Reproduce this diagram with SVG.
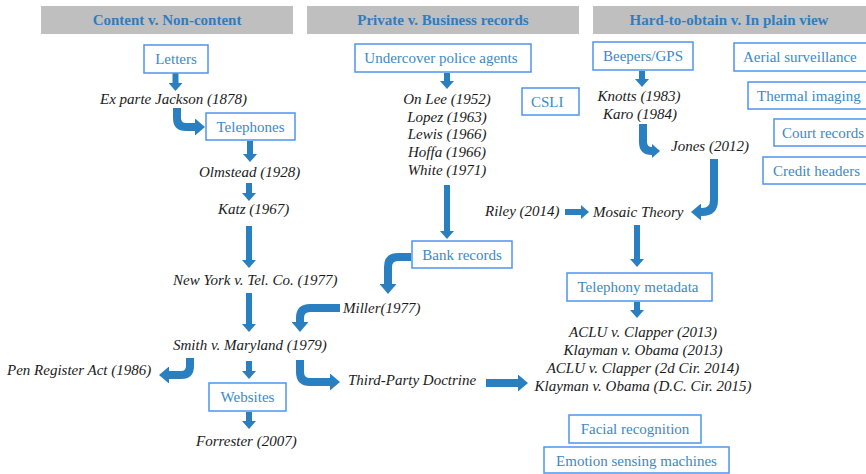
<svg xmlns="http://www.w3.org/2000/svg" width="866" height="474" viewBox="0 0 866 474">
<style>
.hdr{fill:#bfbfbf}
.ht{font-family:"Liberation Serif",serif;font-weight:bold;font-size:15px;fill:#2f7dc0;text-anchor:middle}
.box{fill:#fff;stroke:#4e95ee;stroke-width:1.5}
.bt{font-family:"Liberation Serif",serif;font-size:15px;fill:#3a89c9}
.c{text-anchor:middle}
.it{font-family:"Liberation Serif",serif;font-style:italic;font-size:15px;fill:#1a1a1a}
.a{fill:none;stroke:#2a7fc0;stroke-width:6}
.b{fill:none;stroke:#2a7fc0;stroke-width:8}
</style>
<defs>
<marker id="h" markerUnits="userSpaceOnUse" markerWidth="8" markerHeight="14" viewBox="0 0 8 14" refX="0" refY="7" orient="auto"><path d="M0,0L8,7L0,14z" fill="#2a7fc0"/></marker>
<marker id="H" markerUnits="userSpaceOnUse" markerWidth="10" markerHeight="17" viewBox="0 0 10 17" refX="0" refY="8.5" orient="auto"><path d="M0,0L10,8.5L0,17z" fill="#2a7fc0"/></marker>
</defs>
<g id="headers">
<rect class="hdr" x="41" y="6" width="252" height="28"/>
<text class="ht" x="167" y="25">Content v. Non-content</text>
<rect class="hdr" x="307" y="6" width="272" height="28"/>
<text class="ht" x="443" y="25">Private v. Business records</text>
<rect class="hdr" x="593" y="6" width="273" height="28"/>
<text class="ht" x="729" y="25">Hard-to-obtain v. In plain view</text>
</g>
<g id="connectors">
<path class="a" d="M175.5,73V83" marker-end="url(#h)"/>
<path class="b" d="M177,108V118Q177,127 186,127H195" marker-end="url(#H)"/>
<path class="a" d="M250,141V154" marker-end="url(#h)"/>
<path class="a" d="M249,183V193" marker-end="url(#h)"/>
<path class="a" d="M249,226V260" marker-end="url(#h)"/>
<path class="a" d="M249,293V324" marker-end="url(#h)"/>
<path class="a" d="M249,361V371" marker-end="url(#h)"/>
<path class="a" d="M249,412V421" marker-end="url(#h)"/>
<path class="b" d="M190,358V366Q190,375 181,375H169" marker-end="url(#H)"/>
<path class="a" d="M447,73V81" marker-end="url(#h)"/>
<path class="a" d="M447,185V231" marker-end="url(#h)"/>
<path class="b" d="M411,257H398Q388,257 388,267V284" marker-end="url(#H)"/>
<path class="b" d="M340,308H310Q300,308 300,318V322" marker-end="url(#H)"/>
<path class="b" d="M300,360V372Q300,382 310,382H330" marker-end="url(#H)"/>
<path class="b" d="M486,383H518" marker-end="url(#H)"/>
<path class="a" d="M642,71V79" marker-end="url(#h)"/>
<path class="b" d="M643,124V142Q643,151 652,151" marker-end="url(#h)"/>
<path class="b" d="M714,159V200Q714,212 702,212H701" marker-end="url(#H)"/>
<path class="a" d="M565,212H581" marker-end="url(#h)"/>
<path class="a" d="M637,225V259" marker-end="url(#h)"/>
<path class="a" d="M637,302V310" marker-end="url(#h)"/>
</g>
<g id="letters"><rect class="box" x="144" y="45" width="64" height="28"/><text class="bt c" x="176" y="64">Letters</text></g>
<g id="telephones"><rect class="box" x="206" y="113" width="89" height="27"/><text class="bt c" x="250.5" y="132">Telephones</text></g>
<g id="websites"><rect class="box" x="209" y="383" width="77" height="28"/><text class="bt c" x="247.5" y="402">Websites</text></g>
<g id="undercover"><rect class="box" x="355" y="44" width="176" height="28"/><text class="bt c" x="441" y="63">Undercover police agents</text></g>
<g id="csli"><rect class="box" x="522" y="88" width="57" height="27"/><text class="bt" x="531" y="107">CSLI</text></g>
<g id="bank"><rect class="box" x="412" y="241" width="100" height="27"/><text class="bt c" x="462" y="260">Bank records</text></g>
<g id="beepers"><rect class="box" x="593" y="42" width="100" height="28"/><text class="bt c" x="643" y="61">Beepers/GPS</text></g>
<g id="aerial"><rect class="box" x="734" y="43" width="140" height="28"/><text class="bt" x="743" y="62">Aerial surveillance</text></g>
<g id="thermal"><rect class="box" x="748" y="82" width="130" height="27"/><text class="bt" x="757" y="101">Thermal imaging</text></g>
<g id="court"><rect class="box" x="774" y="119" width="100" height="27"/><text class="bt" x="782" y="138">Court records</text></g>
<g id="credit"><rect class="box" x="763" y="157" width="110" height="27"/><text class="bt" x="773" y="176">Credit headers</text></g>
<g id="telephony"><rect class="box" x="567" y="273" width="145" height="28"/><text class="bt c" x="638" y="292">Telephony metadata</text></g>
<g id="facial"><rect class="box" x="569" y="415" width="132" height="28"/><text class="bt c" x="635" y="434">Facial recognition</text></g>
<g id="emotion"><rect class="box" x="544" y="447" width="185" height="26"/><text class="bt c" x="636.5" y="466">Emotion sensing machines</text></g>
<g id="exparte"><text class="it" x="100" y="104">Ex parte Jackson (1878)</text></g>
<g id="olmstead"><text class="it" x="199" y="177">Olmstead (1928)</text></g>
<g id="katz"><text class="it" x="218" y="214">Katz (1967)</text></g>
<g id="nytel"><text class="it" x="173" y="285">New York v. Tel. Co. (1977)</text></g>
<g id="smith"><text class="it" x="173" y="350">Smith v. Maryland (1979)</text></g>
<g id="penreg"><text class="it" x="7" y="375">Pen Register Act (1986)</text></g>
<g id="forrester"><text class="it" x="196" y="446">Forrester (2007)</text></g>
<g id="onlee"><text class="it c" x="447" y="104">On Lee (1952)</text><text class="it c" x="447" y="122">Lopez (1963)</text><text class="it c" x="447" y="139">Lewis (1966)</text><text class="it c" x="447" y="157">Hoffa (1966)</text><text class="it c" x="447" y="175">White (1971)</text></g>
<g id="miller"><text class="it" x="343" y="313">Miller(1977)</text></g>
<g id="thirdparty"><text class="it" x="348" y="385">Third-Party Doctrine</text></g>
<g id="knotts"><text class="it c" x="639" y="101">Knotts (1983)</text><text class="it c" x="640" y="119">Karo (1984)</text></g>
<g id="jones"><text class="it" x="671" y="151">Jones (2012)</text></g>
<g id="riley"><text class="it" x="485" y="216">Riley (2014)</text></g>
<g id="mosaic"><text class="it" x="593" y="217">Mosaic Theory</text></g>
<g id="clapper"><text class="it c" x="643" y="337">ACLU v. Clapper (2013)</text><text class="it c" x="643" y="355">Klayman v. Obama (2013)</text><text class="it c" x="643" y="373">ACLU v. Clapper (2d Cir. 2014)</text><text class="it c" x="643" y="391">Klayman v. Obama (D.C. Cir. 2015)</text></g>
</svg>
